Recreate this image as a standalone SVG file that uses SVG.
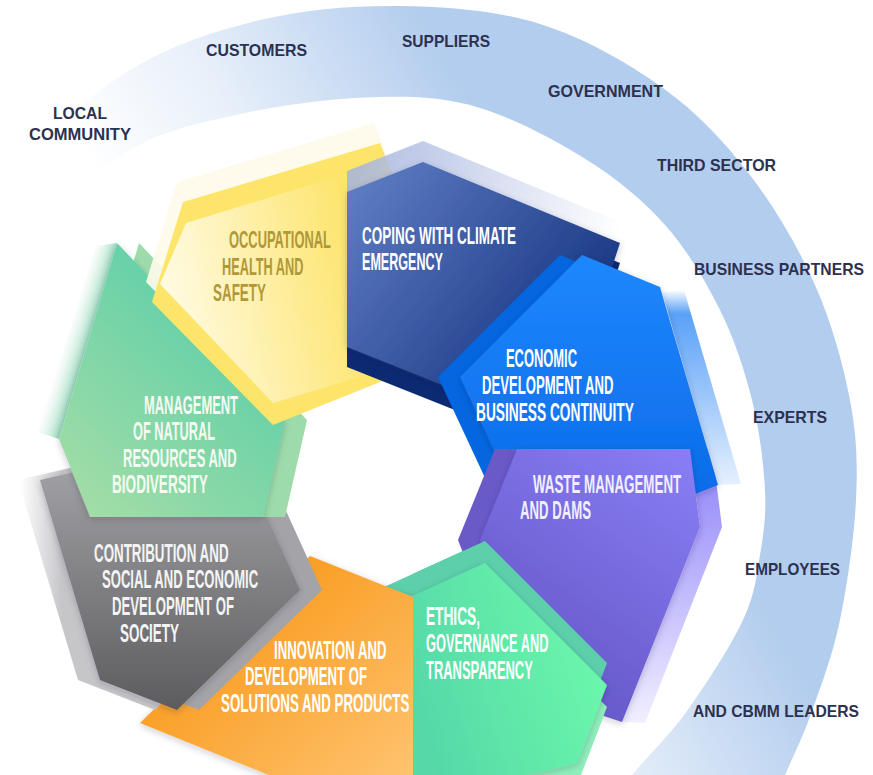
<svg xmlns="http://www.w3.org/2000/svg" width="873" height="775" viewBox="0 0 873 775">
<defs>
<style>
.rl{font-family:"Liberation Sans",Arial,sans-serif;font-weight:700;font-size:16.5px;fill:#2c3150}
.tl{font-family:"Liberation Sans",Arial,sans-serif;font-weight:700;font-size:26px;fill:#ffffff}
.ty{fill:#b09838;font-size:23.5px}
.tn{font-size:24px}
.tp{fill:#f1efff}
.tg{fill:#f4fbf2}
.tgr{fill:#f4f4f4}
.front{filter:url(#sh)}
</style>
<filter id="sh" x="-20%" y="-20%" width="140%" height="140%">
<feDropShadow dx="0" dy="2" stdDeviation="3.5" flood-color="#1a1a40" flood-opacity="0.22"/>
</filter>
<linearGradient id="ringGrad" gradientUnits="userSpaceOnUse" x1="130" y1="230" x2="440" y2="50">
<stop offset="0" stop-color="#b3cdee" stop-opacity="0"/>
<stop offset="0.4" stop-color="#b3cdee" stop-opacity="0.3"/>
<stop offset="1" stop-color="#b3cdee" stop-opacity="1"/>
</linearGradient>
<linearGradient id="greenFront" gradientUnits="userSpaceOnUse" x1="290" y1="300" x2="90" y2="517">
<stop offset="0" stop-color="#53cda8"/><stop offset="1" stop-color="#a3dda7"/>
</linearGradient>
<linearGradient id="greenGlow" gradientUnits="userSpaceOnUse" x1="88" y1="341" x2="62" y2="333">
<stop offset="0" stop-color="#9ad9bd"/><stop offset="1" stop-color="#ffffff" stop-opacity="0"/>
</linearGradient>
<linearGradient id="yellowFront" gradientUnits="userSpaceOnUse" x1="165" y1="300" x2="360" y2="260">
<stop offset="0" stop-color="#fffbe3"/><stop offset="1" stop-color="#fde46b"/>
</linearGradient>
<linearGradient id="navyFront" gradientUnits="userSpaceOnUse" x1="350" y1="195" x2="600" y2="390">
<stop offset="0" stop-color="#5c7bc2"/><stop offset="1" stop-color="#0d2a77"/>
</linearGradient>
<linearGradient id="navyGlow" gradientUnits="userSpaceOnUse" x1="360" y1="160" x2="620" y2="235">
<stop offset="0" stop-color="#a5b4df"/><stop offset="1" stop-color="#ffffff"/>
</linearGradient>
<linearGradient id="blueFront" gradientUnits="userSpaceOnUse" x1="0" y1="260" x2="0" y2="520">
<stop offset="0" stop-color="#1e87fd"/><stop offset="1" stop-color="#0a69e6"/>
</linearGradient>
<linearGradient id="blueGlow" gradientUnits="userSpaceOnUse" x1="0" y1="290" x2="0" y2="490">
<stop offset="0" stop-color="#4a97f6" stop-opacity="0"/>
<stop offset="0.12" stop-color="#5aa1f7"/>
<stop offset="1" stop-color="#eaf3fe"/>
</linearGradient>
<linearGradient id="purpleFront" gradientUnits="userSpaceOnUse" x1="690" y1="449" x2="520" y2="690">
<stop offset="0" stop-color="#897ef6"/><stop offset="1" stop-color="#6456c6"/>
</linearGradient>
<linearGradient id="purpleGlow" gradientUnits="userSpaceOnUse" x1="0" y1="480" x2="0" y2="722">
<stop offset="0" stop-color="#988dfa"/><stop offset="1" stop-color="#f1efff"/>
</linearGradient>
<linearGradient id="ethicsFront" gradientUnits="userSpaceOnUse" x1="413" y1="700" x2="607" y2="640">
<stop offset="0" stop-color="#56d8a8"/><stop offset="1" stop-color="#6cf9ab"/>
</linearGradient>
<linearGradient id="orangeFront" gradientUnits="userSpaceOnUse" x1="250" y1="590" x2="420" y2="790">
<stop offset="0" stop-color="#f99c20"/><stop offset="1" stop-color="#ffc574"/>
</linearGradient>
<linearGradient id="grayFront" gradientUnits="userSpaceOnUse" x1="0" y1="450" x2="0" y2="710">
<stop offset="0" stop-color="#a6a6aa"/><stop offset="1" stop-color="#5c5c5f"/>
</linearGradient>
<linearGradient id="grayGlow" gradientUnits="userSpaceOnUse" x1="20" y1="0" x2="62" y2="0">
<stop offset="0" stop-color="#ffffff"/><stop offset="1" stop-color="#c6c6c9"/>
</linearGradient>
<clipPath id="clipR"><rect x="413" y="0" width="460" height="775"/></clipPath>
<g id="ethicsShapes">
<polygon points="360,642 485,585 607,707 577,785 413,824 360,824" fill="#8eefba"/>
<polygon points="360,598 485,541 607,663 577,741 413,780 360,780" fill="#5dcfab"/>
<polygon class="front" points="360,620 485,563 607,685 577,763 413,802 360,802" fill="url(#ethicsFront)"/>
</g>
</defs>

<g id="ring">
<path fill="url(#ringGrad)" d="M -60,330 C -46.7,303.3 -11.7,213.3 20,170 C 51.7,126.7 90,95 130,70 C 170,45 215,30.7 260,20 C 305,9.3 353.3,5.3 400,6 C 446.7,6.7 496.2,10.3 540,24 C 583.8,37.7 628,62.8 663,88 C 698,113.2 724.7,142.2 750,175 C 775.3,207.8 798.3,247.5 815,285 C 831.7,322.5 843.2,364.2 850,400 C 856.8,435.8 857.7,463.3 856,500 C 854.3,536.7 847.3,584.8 840,620 C 832.7,655.2 821.2,685.2 812,711 C 802.8,736.8 795.3,751.8 785,775 C 774.7,798.2 755.8,837.5 750,850 L 585,835 C 592.8,825 615,795.7 632,775 C 649,754.3 668.5,736.8 687,711 C 705.5,685.2 730.8,646 743,620 C 755.2,594 756.3,576.7 760,555 C 763.7,533.3 766.3,515.8 765,490 C 763.7,464.2 759.5,430 752,400 C 744.5,370 734.5,339.2 720,310 C 705.5,280.8 687.2,250 665,225 C 642.8,200 617.8,179.5 587,160 C 556.2,140.5 514.5,118.5 480,108 C 445.5,97.5 418.3,96.3 380,97 C 341.7,97.7 291.7,103.2 250,112 C 208.3,120.8 166.7,128.7 130,150 C 93.3,171.3 58.3,195 30,240 C 1.7,285 -28.3,390 -40,420 Z"/>
<text class="rl" x="53" y="119" textLength="54" lengthAdjust="spacingAndGlyphs">LOCAL</text>
<text class="rl" x="29" y="140" textLength="102" lengthAdjust="spacingAndGlyphs">COMMUNITY</text>
<text class="rl" x="206" y="56" textLength="101" lengthAdjust="spacingAndGlyphs">CUSTOMERS</text>
<text class="rl" x="402" y="47" textLength="88" lengthAdjust="spacingAndGlyphs">SUPPLIERS</text>
<text class="rl" x="548" y="97" textLength="115" lengthAdjust="spacingAndGlyphs">GOVERNMENT</text>
<text class="rl" x="657" y="171" textLength="119" lengthAdjust="spacingAndGlyphs">THIRD SECTOR</text>
<text class="rl" x="694" y="275" textLength="170" lengthAdjust="spacingAndGlyphs">BUSINESS PARTNERS</text>
<text class="rl" x="753" y="423" textLength="74" lengthAdjust="spacingAndGlyphs">EXPERTS</text>
<text class="rl" x="745" y="575" textLength="95" lengthAdjust="spacingAndGlyphs">EMPLOYEES</text>
<text class="rl" x="693" y="717" textLength="166" lengthAdjust="spacingAndGlyphs">AND CBMM LEADERS</text>
</g>

<g id="node-ethics-base">
<use href="#ethicsShapes"/>
</g>

<g id="node-innovation">
<polygon class="front" points="140,723 310,556 413,597 413,800 330,800" fill="url(#orangeFront)"/>
<text class="tl" transform="translate(274,659) scale(0.507,1)">INNOVATION AND</text>
<text class="tl" transform="translate(245,685) scale(0.506,1)">DEVELOPMENT OF</text>
<text class="tl" transform="translate(221,712) scale(0.513,1)">SOLUTIONS AND PRODUCTS</text>
</g>

<g id="node-contribution">
<polygon points="18,480 208,436 278,590 155,710 78,680" fill="url(#grayGlow)"/>
<polygon points="62,480 252,436 322,590 199,710 122,680" fill="#a4a4a8"/>
<polygon class="front" points="40,480 230,436 300,590 177,710 100,680" fill="url(#grayFront)"/>
<text class="tl tgr" transform="translate(94,562) scale(0.514,1)">CONTRIBUTION AND</text>
<text class="tl tgr" transform="translate(102,588) scale(0.503,1)">SOCIAL AND ECONOMIC</text>
<text class="tl tgr" transform="translate(112,615) scale(0.506,1)">DEVELOPMENT OF</text>
<text class="tl tgr" transform="translate(120,642) scale(0.517,1)">SOCIETY</text>
</g>

<g id="node-natural-resources">
<polygon points="117,243 59,439 38,432 96,246" fill="url(#greenGlow)"/>
<polygon points="139,243 307,420 285,517 112,517 81,439" fill="#9ddcaa"/>
<polygon class="front" points="117,243 285,420 263,517 90,517 59,439" fill="url(#greenFront)"/>
<text class="tl tg" transform="translate(144,414) scale(0.497,1)">MANAGEMENT</text>
<text class="tl tg" transform="translate(133,440) scale(0.491,1)">OF NATURAL</text>
<text class="tl tg" transform="translate(123,467) scale(0.5,1)">RESOURCES AND</text>
<text class="tl tg" transform="translate(112,493) scale(0.523,1)">BIODIVERSITY</text>
</g>

<g id="node-health-safety">
<polygon points="177,182 374,123 419,235 384,358 267,405 146,282" fill="#fffbea" opacity="0.9"/>
<polygon points="183,202 380,143 425,255 390,378 273,425 152,302" fill="#fde56b"/>
<polygon points="186,223 375,165 415,255 383,370 273,403 160,284" fill="url(#yellowFront)"/>
<text class="tl ty" transform="translate(229,248) scale(0.549,1)">OCCUPATIONAL</text>
<text class="tl ty" transform="translate(222,275) scale(0.543,1)">HEALTH AND</text>
<text class="tl ty" transform="translate(213,301) scale(0.572,1)">SAFETY</text>
</g>

<g id="node-climate">
<polygon points="347,171 423,141 620,222 575,359 480,379 347,326" fill="url(#navyGlow)" opacity="0.85"/>
<polygon points="347,212 423,182 620,263 575,400 480,420 347,367" fill="#0c2a72"/>
<polygon class="front" points="347,192 423,162 620,243 575,380 480,400 347,347" fill="url(#navyFront)"/>
<text class="tl tn" transform="translate(362,244) scale(0.562,1)">COPING WITH CLIMATE</text>
<text class="tl tn" transform="translate(362,270) scale(0.524,1)">EMERGENCY</text>
</g>

<g id="node-waste-glow">
<polygon points="690,449 712,449 722,527 645,723 622,722 700,527" fill="url(#purpleGlow)"/>
</g>

<g id="node-economic">
<polygon points="662,292 684,290 741,484 718,485" fill="url(#blueGlow)"/>
<polygon points="560,255 638,287 696,485 588,528 493,495 438,377" fill="#0467e0"/>
<polygon class="front" points="582,255 660,287 718,485 610,528 515,495 460,377" fill="url(#blueFront)"/>
<text class="tl" transform="translate(506,367) scale(0.497,1)">ECONOMIC</text>
<text class="tl" transform="translate(482,394) scale(0.505,1)">DEVELOPMENT AND</text>
<text class="tl" transform="translate(476,421) scale(0.528,1)">BUSINESS CONTINUITY</text>
</g>

<g id="node-waste">
<polygon points="495,449 668,449 678,527 600,722 518,695 458,540" fill="#6a5ac8"/>
<polygon class="front" points="517,449 690,449 700,527 622,722 540,695 480,540" fill="url(#purpleFront)"/>
<text class="tl tp" transform="translate(533,493) scale(0.513,1)">WASTE MANAGEMENT</text>
<text class="tl tp" transform="translate(520,519) scale(0.507,1)">AND DAMS</text>
</g>

<g id="node-ethics">
<g clip-path="url(#clipR)"><use href="#ethicsShapes"/></g>
<text class="tl" transform="translate(426,625) scale(0.526,1)">ETHICS,</text>
<text class="tl" transform="translate(426,652) scale(0.492,1)">GOVERNANCE AND</text>
<text class="tl" transform="translate(426,679) scale(0.498,1)">TRANSPARENCY</text>
</g>
</svg>
